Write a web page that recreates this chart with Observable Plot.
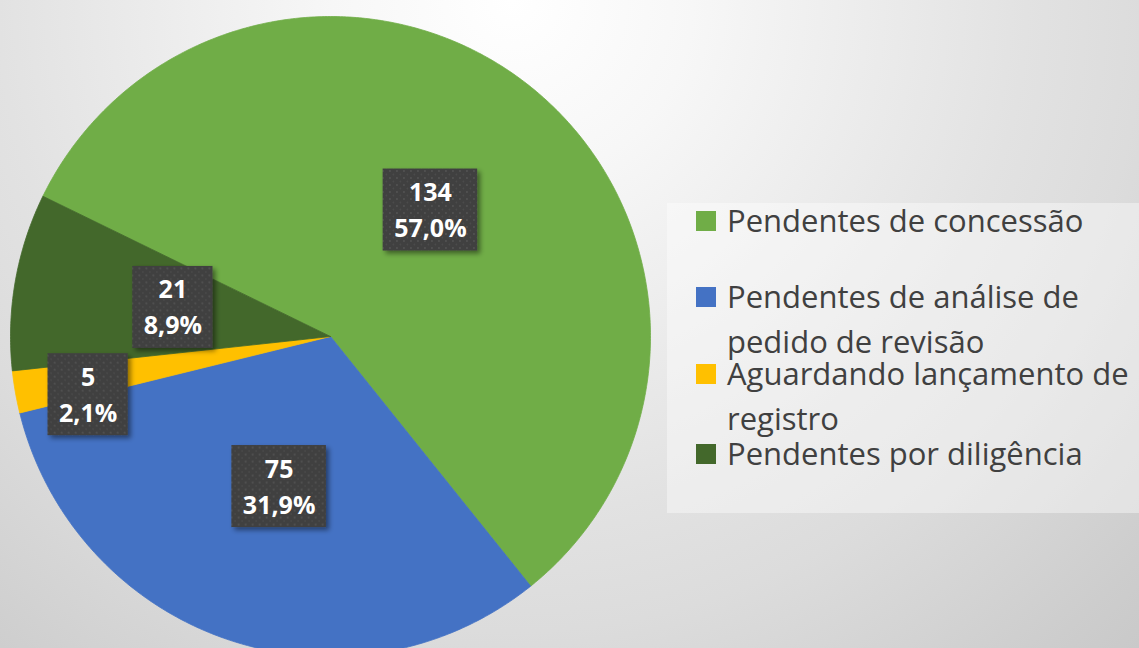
<!DOCTYPE html>
<html><head><meta charset="utf-8">
<script src="https://cdn.jsdelivr.net/npm/d3@7"></script>
<script src="https://cdn.jsdelivr.net/npm/@observablehq/plot@0.6"></script>
<style>
html,body{margin:0;padding:0;}
#wrap{position:relative;width:1139px;height:648px;overflow:hidden;
  background:radial-gradient(circle farthest-corner at 45% 0%, #ffffff 0%, #f7f7f7 20%, #e2e2e2 57%, #dcdcdc 70%, #cdcdcd 93%, #c9c9c9 100%);
  font-family:"Open Sans",sans-serif;}
#chart{position:absolute;left:0;top:0;}
#legend{position:absolute;left:667px;top:203px;width:472px;height:310px;background:rgba(255,255,255,0.4);}
.sw{position:absolute;left:29px;width:20px;height:20px;}
.ln{position:absolute;left:60px;width:412px;font-size:31px;line-height:32px;height:32px;color:#404040;white-space:nowrap;}
</style>
</head><body>
<div id="wrap"><div id="chart"></div><div id="legend"></div></div>
<script>
const categories = ["Pendentes de concessão", "Pendentes de análise de pedido de revisão", "Aguardando lançamento de registro", "Pendentes por diligência"];
const values = [134, 75, 5, 21];
const colors = ["#70AD47", "#4472C4", "#FFC000", "#43682B"];

const total = d3.sum(values);
const start = -64 * Math.PI / 180;
const arcs = d3.pie().sort(null).startAngle(start).endAngle(start + 2 * Math.PI)(values);

const pts = [];
arcs.forEach((a, i) => {
  const n = Math.max(2, Math.ceil((a.endAngle - a.startAngle) / 0.01));
  pts.push({cat: categories[i], x: 0, y: 0});
  for (let k = 0; k <= n; k++) {
    const t = a.startAngle + (a.endAngle - a.startAngle) * k / n;
    pts.push({cat: categories[i], x: Math.sin(t), y: Math.cos(t)});
  }
  pts.push({cat: categories[i], x: 0, y: 0});
});

const labels = arcs.map((a, i) => {
  const share = values[i] / total;
  const small = share < 0.05;
  const m = small ? a.startAngle : (a.startAngle + a.endAngle) / 2;
  const r = small ? 0.78 : 0.5;
  return {x: r * Math.sin(m), y: r * Math.cos(m),
          text: values[i] + "\n" + (share * 100).toFixed(1).replace(".", ",") + "%"};
});

const plot = Plot.plot({
  width: 1139, height: 648, margin: 0,
  x: {domain: [-1, 1], range: [10, 650], axis: null},
  y: {domain: [-1, 1], range: [656, 16], axis: null},
  color: {domain: categories, range: colors},
  style: {background: "transparent", overflow: "hidden"},
  marks: [
    Plot.line(pts, {x: "x", y: "y", z: "cat", fill: "cat", stroke: "cat", strokeWidth: 0.8}),
    Plot.text(labels, {x: "x", y: "y", dy: -4, text: "text", fill: "white", fontSize: 25, fontWeight: "bold",
                       lineHeight: 1.44, fontFamily: "Open Sans"})
  ]
});
document.getElementById("chart").appendChild(plot);

// label boxes behind the data labels
const ns = "http://www.w3.org/2000/svg";
const defs = document.createElementNS(ns, "defs");
defs.innerHTML = `
<filter id="sh" x="-30%" y="-30%" width="160%" height="160%">
  <feDropShadow dx="3" dy="3" stdDeviation="2.5" flood-color="#000" flood-opacity="0.45"/>
</filter>
<pattern id="dots" width="7" height="7" patternUnits="userSpaceOnUse">
  <rect width="7" height="7" fill="#3f3f3f"/>
  <circle cx="2" cy="2" r="0.9" fill="#565656"/>
  <circle cx="5.5" cy="5.5" r="0.9" fill="#4c4c4c"/>
</pattern>`;
plot.insertBefore(defs, plot.firstChild);
plot.querySelectorAll('g[aria-label="text"]').forEach(g => {
  const boxG = document.createElementNS(ns, "g");
  g.parentNode.insertBefore(boxG, g);
  g.querySelectorAll("text").forEach(t => {
    const b = t.getBBox();
    const r = document.createElementNS(ns, "rect");
    const w = b.width + 22, h = 82;
    r.setAttribute("x", b.x + b.width / 2 - w / 2);
    r.setAttribute("y", b.y + b.height / 2 - h / 2 - 3);
    r.setAttribute("width", w);
    r.setAttribute("height", h);
    r.setAttribute("fill", "url(#dots)");
    r.setAttribute("filter", "url(#sh)");
    const tr = t.getAttribute("transform");
    if (tr) r.setAttribute("transform", tr);
    boxG.appendChild(r);
  });
});

// legend (wrapped lines)
const ctx = document.createElement("canvas").getContext("2d");
ctx.font = '31px "Open Sans"';
function wrap(s, maxW) {
  const words = s.split(" "), lines = [];
  let cur = "";
  words.forEach(w => {
    const test = cur ? cur + " " + w : w;
    if (ctx.measureText(test).width > maxW && cur) { lines.push(cur); cur = w; } else cur = test;
  });
  if (cur) lines.push(cur);
  return lines;
}
const itemBaselines = [29, 105, 182, 262];   // first-line baselines inside legend box
const lineStep = 45;
const legend = document.getElementById("legend");
categories.forEach((c, i) => {
  const sw = document.createElement("div");
  sw.className = "sw";
  sw.style.background = colors[i];
  sw.style.top = (itemBaselines[i] - 21) + "px";
  legend.appendChild(sw);
  wrap(c, 412).forEach((line, j) => {
    const d = document.createElement("div");
    d.className = "ln";
    d.textContent = line;
    d.style.top = (itemBaselines[i] + j * lineStep - 28) + "px";
    legend.appendChild(d);
  });
});
</script>
</body></html>
